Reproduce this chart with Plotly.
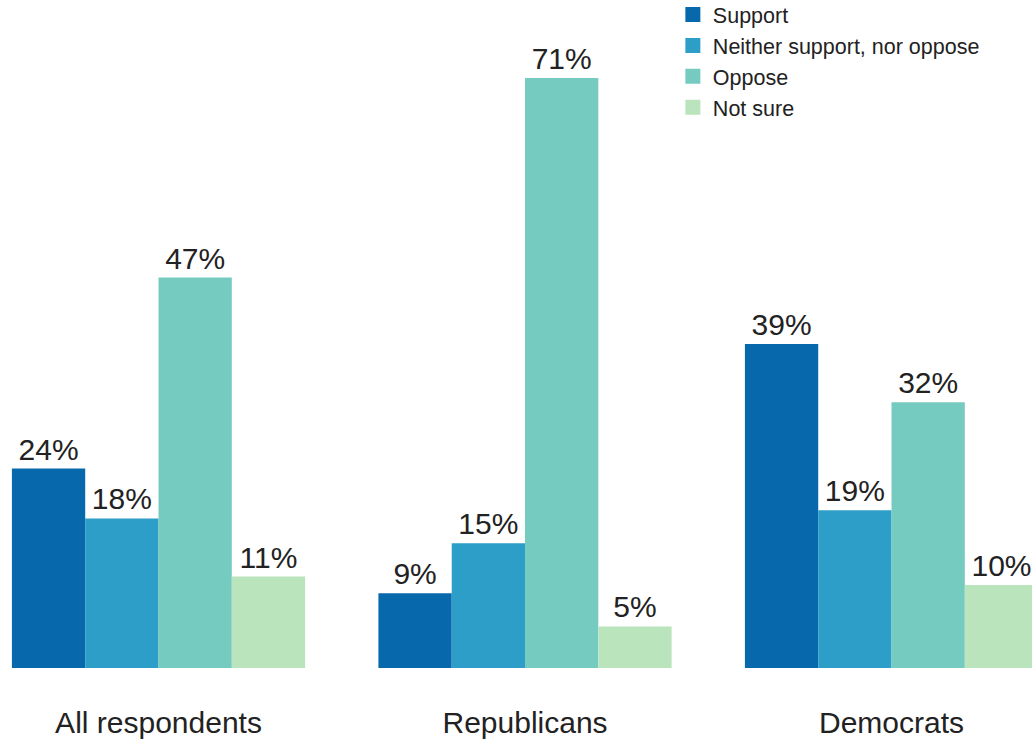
import plotly.graph_objects as go

groups = ["All respondents", "Republicans", "Democrats"]
responses = ["Support", "Neither support, nor oppose", "Oppose", "Not sure"]
support = [24, 9, 39]
neither = [18, 15, 19]
oppose = [47, 71, 32]
not_sure = [11, 5, 10]
colors = ["#0868ac", "#2c9ec8", "#76cbc1", "#bae4bc"]

series = [support, neither, oppose, not_sure]

fig = go.Figure()
for name, vals, col in zip(responses, series, colors):
    fig.add_trace(go.Bar(
        x=groups, y=vals, name=name,
        marker=dict(color=col, line=dict(width=0)),
        text=[f"{v}%" for v in vals],
        textposition="outside",
        textfont=dict(size=30, color="#222222", family="Liberation Sans, Arial, sans-serif"),
        cliponaxis=False,
        showlegend=False,
    ))
    # square swatch for the legend
    fig.add_trace(go.Scatter(
        x=[None], y=[None], mode="markers", name=name,
        marker=dict(symbol="square", size=15, color=col),
    ))

fig.update_layout(
    width=1032, height=744,
    margin=dict(l=0, r=0, t=0, b=76, autoexpand=False),
    paper_bgcolor="white", plot_bgcolor="white",
    barmode="group", bargap=0.2, bargroupgap=0,
    font=dict(family="Liberation Sans, Arial, sans-serif", color="#222222"),
    legend=dict(
        x=0.652, y=1.009, xanchor="left", yanchor="top",
        font=dict(size=21.5, color="#222222"),
        tracegroupgap=0, itemwidth=30,
        bgcolor="rgba(0,0,0,0)",
    ),
    xaxis=dict(
        range=[-0.4325, 2.3833], showgrid=False, showline=False, zeroline=False,
        ticks="", tickfont=dict(size=30, color="#222222"), ticklabelstandoff=34,
    ),
    yaxis=dict(range=[0, 80.4], visible=False),
)

fig.write_html("out.html")
